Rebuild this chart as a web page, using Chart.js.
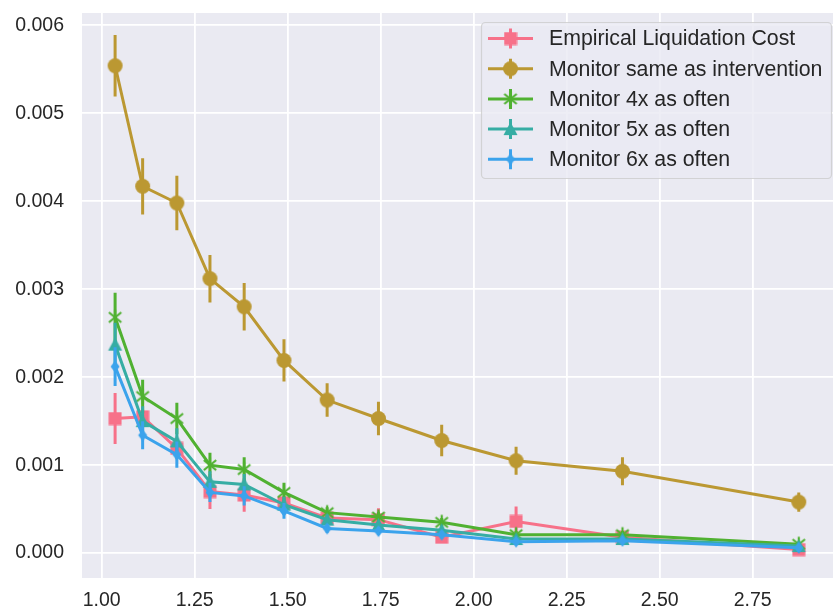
<!DOCTYPE html>
<html>
<head>
<meta charset="utf-8">
<script src="https://cdn.jsdelivr.net/npm/chart.js@4.4.1/dist/chart.umd.min.js"></script>
<style>
  html, body { margin: 0; padding: 0; background: #ffffff; }
  #wrap { width: 833px; height: 610px; position: relative; }
</style>
</head>
<body>
<div id="wrap"><canvas id="chart" width="833" height="610"></canvas></div>
<script>
// Intervention interval ratios (x positions shared by every series)
const xValues = [1.036, 1.110, 1.202, 1.291, 1.383, 1.490, 1.606, 1.744, 1.914, 2.114, 2.400, 2.874];

// Mean costs and error half-widths per series
const empiricalCost = [0.00153, 0.00155, 0.00119, 0.00070, 0.00066, 0.00057, 0.00040, 0.00038, 0.00018, 0.00036, 0.00018, 0.00004];
const empiricalErr  = [0.00029, 0.00008, 0.00012, 0.00020, 0.00019, 0.00008, 0.00008, 0.00013, 0.00005, 0.00017, 0.00005, 0.00003];

const monitorSame    = [0.00554, 0.00417, 0.00398, 0.00312, 0.00280, 0.00219, 0.00174, 0.00153, 0.00128, 0.00105, 0.00093, 0.00058];
const monitorSameErr = [0.00035, 0.00032, 0.00031, 0.00027, 0.00027, 0.00024, 0.00019, 0.00019, 0.00018, 0.00016, 0.00016, 0.00011];

const monitor4x    = [0.00268, 0.00178, 0.00153, 0.00100, 0.00095, 0.00069, 0.00046, 0.00041, 0.00035, 0.00021, 0.00021, 0.00010];
const monitor4xErr = [0.00028, 0.00019, 0.00018, 0.00014, 0.00014, 0.00011, 0.00006, 0.00006, 0.00005, 0.00004, 0.00004, 0.00003];

const monitor5x    = [0.00237, 0.00150, 0.00127, 0.00081, 0.00078, 0.00055, 0.00038, 0.00032, 0.00026, 0.00016, 0.00016, 0.00008];
const monitor5xErr = [0.00025, 0.00017, 0.00015, 0.00012, 0.00012, 0.00009, 0.00006, 0.00005, 0.00004, 0.00003, 0.00003, 0.00002];

const monitor6x    = [0.00212, 0.00134, 0.00112, 0.00069, 0.00065, 0.00048, 0.00028, 0.00025, 0.00021, 0.00013, 0.00014, 0.00006];
const monitor6xErr = [0.00022, 0.00016, 0.00015, 0.00011, 0.00011, 0.00009, 0.00005, 0.00004, 0.00004, 0.00003, 0.00003, 0.00002];

const seriesLabels = [
  'Empirical Liquidation Cost',
  'Monitor same as intervention',
  'Monitor 4x as often',
  'Monitor 5x as often',
  'Monitor 6x as often'
];

// Tick labels
const xTickValues = [1.00, 1.25, 1.50, 1.75, 2.00, 2.25, 2.50, 2.75];
const yTickValues = [0.000, 0.001, 0.002, 0.003, 0.004, 0.005, 0.006];

const colors = ['#f77189', '#bb9832', '#50b131', '#36ada4', '#3ba3ec'];
const FONT = '"Liberation Sans", Arial, sans-serif';
const TEXT_COLOR = '#262626';
const LINE_W = 3;

// Marker sprites
function sprite(w, h, draw) {
  const c = document.createElement('canvas');
  c.width = w; c.height = h;
  const g = c.getContext('2d');
  draw(g, w, h);
  return c;
}
function squareMarker(color) {
  return sprite(14, 14, (g) => { g.fillStyle = color; g.fillRect(0.5, 0.5, 13, 13); });
}
function circleMarker(color) {
  return sprite(17, 17, (g) => { g.fillStyle = color; g.beginPath(); g.arc(8.5, 8.5, 7.5, 0, Math.PI * 2); g.fill(); });
}
function asteriskMarker(color) {
  return sprite(18, 18, (g) => {
    g.strokeStyle = color; g.lineWidth = 2.2; g.lineCap = 'butt';
    g.beginPath();
    g.moveTo(9, 1.5); g.lineTo(9, 16.5);
    g.moveTo(2.8, 4); g.lineTo(15.2, 14);
    g.moveTo(15.2, 4); g.lineTo(2.8, 14);
    g.stroke();
  });
}
function triangleMarker(color) {
  return sprite(17, 16, (g) => {
    g.fillStyle = color; g.beginPath();
    g.moveTo(8.5, 1); g.lineTo(15.5, 14); g.lineTo(1.5, 14); g.closePath(); g.fill();
  });
}
function thinDiamondMarker(color) {
  return sprite(12, 14, (g) => {
    g.fillStyle = color; g.beginPath();
    g.moveTo(6, 1); g.lineTo(10.5, 7); g.lineTo(6, 13); g.lineTo(1.5, 7); g.closePath(); g.fill();
  });
}
const markers = [
  squareMarker(colors[0]),
  circleMarker(colors[1]),
  asteriskMarker(colors[2]),
  triangleMarker(colors[3]),
  thinDiamondMarker(colors[4])
];

const seriesValues = [empiricalCost, monitorSame, monitor4x, monitor5x, monitor6x];
const seriesErrors = [empiricalErr, monitorSameErr, monitor4xErr, monitor5xErr, monitor6xErr];

const datasets = seriesValues.map((vals, i) => ({
  label: seriesLabels[i],
  data: xValues.map((x, j) => ({ x: x, y: vals[j] })),
  errors: seriesErrors[i],
  borderColor: colors[i],
  backgroundColor: colors[i],
  borderWidth: LINE_W,
  pointStyle: markers[i],
  pointRadius: 7,
  pointHoverRadius: 7,
  tension: 0,
  fill: false,
  order: seriesValues.length - i
}));

// Vertical error bars drawn just beneath each dataset's line
const errorBars = {
  id: 'errorBars',
  beforeDatasetDraw(chart, args) {
    const ds = chart.data.datasets[args.index];
    const xs = chart.scales.x, ys = chart.scales.y;
    const ctx = chart.ctx;
    const area = chart.chartArea;
    ctx.save();
    ctx.beginPath();
    ctx.rect(area.left, area.top, area.right - area.left, area.bottom - area.top);
    ctx.clip();
    ctx.strokeStyle = ds.borderColor;
    ctx.lineWidth = LINE_W;
    ctx.beginPath();
    ds.data.forEach((p, j) => {
      const e = ds.errors[j];
      const px = xs.getPixelForValue(p.x);
      ctx.moveTo(px, ys.getPixelForValue(p.y - e));
      ctx.lineTo(px, ys.getPixelForValue(p.y + e));
    });
    ctx.stroke();
    ctx.restore();
  }
};

// Framed legend in the upper-right corner of the plot
const boxLegend = {
  id: 'boxLegend',
  afterDraw(chart) {
    const ctx = chart.ctx;
    const x0 = 481.5, y0 = 22.5, w = 350, h = 156, r = 4;
    ctx.save();
    ctx.beginPath();
    ctx.moveTo(x0 + r, y0);
    ctx.arcTo(x0 + w, y0, x0 + w, y0 + h, r);
    ctx.arcTo(x0 + w, y0 + h, x0, y0 + h, r);
    ctx.arcTo(x0, y0 + h, x0, y0, r);
    ctx.arcTo(x0, y0, x0 + w, y0, r);
    ctx.closePath();
    ctx.fillStyle = 'rgba(234,234,242,0.8)';
    ctx.fill();
    ctx.strokeStyle = 'rgba(204,204,204,0.8)';
    ctx.lineWidth = 1.2;
    ctx.stroke();

    const rowY0 = 38.5, rowGap = 30.2;
    chart.data.datasets.forEach((ds, i) => {
      const cy = rowY0 + i * rowGap;
      ctx.strokeStyle = ds.borderColor;
      ctx.lineWidth = LINE_W;
      ctx.beginPath();
      ctx.moveTo(488, cy); ctx.lineTo(533, cy);
      ctx.moveTo(510.5, cy - 10); ctx.lineTo(510.5, cy + 10);
      ctx.stroke();
      const m = markers[i];
      ctx.drawImage(m, 510.5 - m.width / 2, cy - m.height / 2);
      ctx.fillStyle = TEXT_COLOR;
      ctx.font = '21.3px ' + FONT;
      ctx.textBaseline = 'middle';
      ctx.textAlign = 'left';
      ctx.fillText(ds.label, 549, cy + 1);
    });
    ctx.restore();
  }
};

// Plot background
const plotBackground = {
  id: 'plotBackground',
  beforeDraw(chart) {
    const a = chart.chartArea, ctx = chart.ctx;
    ctx.save();
    ctx.fillStyle = '#eaeaf2';
    ctx.fillRect(a.left, a.top, a.right - a.left, a.bottom - a.top);
    ctx.restore();
  }
};

// Keep the plot frame fixed: no extra room reserved for edge tick labels
function noEdgePadding(scale) {
  scale.paddingLeft = 0;
  scale.paddingRight = 0;
  scale.paddingTop = 0;
  scale.paddingBottom = 0;
}

new Chart(document.getElementById('chart'), {
  type: 'line',
  data: { datasets: datasets },
  plugins: [plotBackground, errorBars, boxLegend],
  options: {
    responsive: false,
    animation: false,
    events: [],
    layout: { autoPadding: false, padding: { top: 13, right: 0, left: 0, bottom: 0 } },
    plugins: { legend: { display: false }, tooltip: { enabled: false } },
    scales: {
      x: {
        type: 'linear',
        min: 0.947,
        max: 2.966,
        afterBuildTicks(scale) { scale.ticks = xTickValues.map(v => ({ value: v })); },
        afterFit(scale) { scale.height = 32; noEdgePadding(scale); },
        grid: { color: '#ffffff', lineWidth: 1.8, drawTicks: false },
        border: { display: false },
        ticks: {
          padding: 11,
          color: TEXT_COLOR,
          font: { family: FONT, size: 19.5 },
          maxRotation: 0,
          callback: (v) => Number(v).toFixed(2)
        }
      },
      y: {
        type: 'linear',
        min: -0.000283,
        max: 0.00614,
        afterBuildTicks(scale) { scale.ticks = yTickValues.map(v => ({ value: v })); },
        afterFit(scale) { scale.width = 82; noEdgePadding(scale); },
        grid: { color: '#ffffff', lineWidth: 1.8, drawTicks: false },
        border: { display: false },
        ticks: {
          padding: 18,
          color: TEXT_COLOR,
          font: { family: FONT, size: 19.5 },
          callback: (v) => Number(v).toFixed(3)
        }
      }
    }
  }
});
</script>
</body>
</html>
